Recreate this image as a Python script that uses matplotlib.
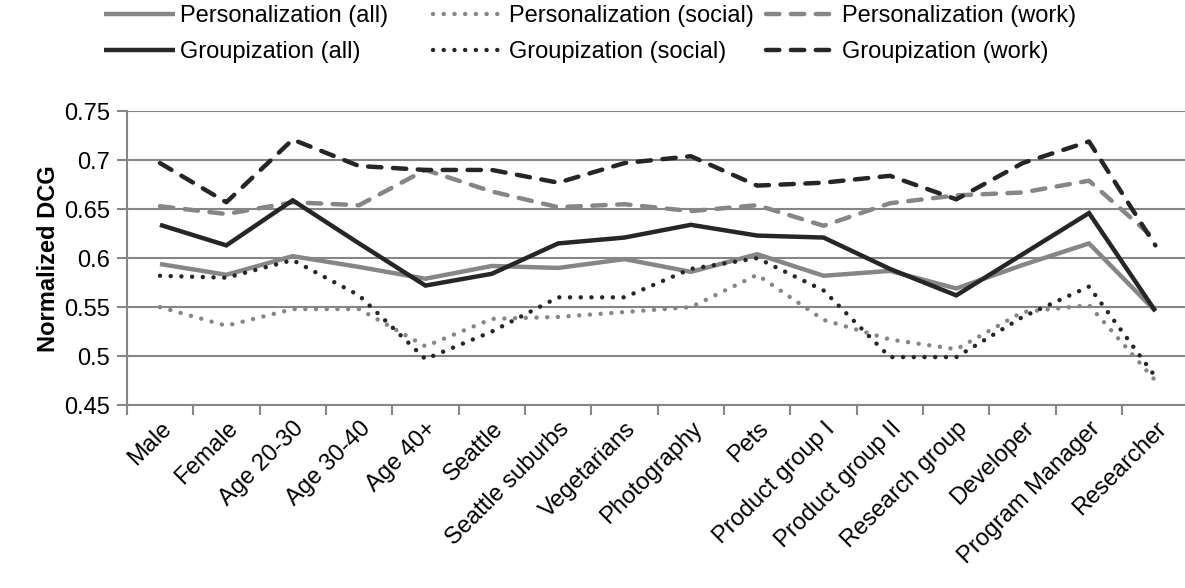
import numpy as np
import matplotlib
matplotlib.use('Agg')
import matplotlib.pyplot as plt

plt.rcParams['font.family'] = ['Liberation Sans', 'DejaVu Sans']

categories = ['Male', 'Female', 'Age 20-30', 'Age 30-40', 'Age 40+', 'Seattle',
              'Seattle suburbs', 'Vegetarians', 'Photography', 'Pets',
              'Product group I', 'Product group II', 'Research group',
              'Developer', 'Program Manager', 'Researcher']

pers_all = [0.594, 0.583, 0.602, 0.591, 0.579, 0.592, 0.590, 0.599, 0.586, 0.604,
            0.582, 0.587, 0.569, 0.593, 0.615, 0.546]
pers_social = [0.550, 0.531, 0.548, 0.548, 0.510, 0.538, 0.540, 0.545, 0.550, 0.583,
               0.537, 0.517, 0.507, 0.545, 0.552, 0.475]
pers_work = [0.653, 0.645, 0.657, 0.654, 0.690, 0.668, 0.652, 0.655, 0.648, 0.654,
             0.633, 0.656, 0.664, 0.667, 0.679, 0.619]
grp_all = [0.634, 0.613, 0.659, 0.615, 0.572, 0.584, 0.615, 0.621, 0.634, 0.623,
           0.621, 0.589, 0.562, 0.604, 0.646, 0.546]
grp_social = [0.582, 0.580, 0.598, 0.562, 0.497, 0.525, 0.560, 0.560, 0.589, 0.600,
              0.567, 0.499, 0.499, 0.540, 0.571, 0.479]
grp_work = [0.697, 0.657, 0.721, 0.694, 0.690, 0.690, 0.677, 0.697, 0.704, 0.674,
            0.677, 0.684, 0.660, 0.697, 0.719, 0.613]

GRAY = '#868686'
DARK = '#262626'
LW = 3.2
FS = 17

fig = plt.figure(figsize=(11.85, 5.88), dpi=100)
ax = fig.add_axes([0.107, 0.311, 0.896, 0.5])

x = np.arange(len(categories))
dot = (0, (0.01, 2.4))
dash = (0, (3.0, 2.6))

series = [
    (pers_all, GRAY, '-', 'Personalization (all)'),
    (pers_social, GRAY, dot, 'Personalization (social)'),
    (pers_work, GRAY, dash, 'Personalization (work)'),
    (grp_all, DARK, '-', 'Groupization (all)'),
    (grp_social, DARK, dot, 'Groupization (social)'),
    (grp_work, DARK, dash, 'Groupization (work)'),
]

handles = {}
for vals, col, ls, lab in series:
    ln, = ax.plot(x, vals, color=col, lw=LW, linestyle=ls, dash_capstyle='round',
                  solid_joinstyle='miter', solid_capstyle='butt', zorder=3)
    handles[lab] = ln

ax.set_xlim(-0.5, len(categories) - 0.5)
ax.set_ylim(0.45, 0.75)
ax.set_yticks([0.45, 0.5, 0.55, 0.6, 0.65, 0.7, 0.75])
ax.set_yticklabels(['0.45', '0.5', '0.55', '0.6', '0.65', '0.7', '0.75'])
ax.yaxis.grid(True, color=GRAY, lw=1.5)
ax.set_axisbelow(True)

ax.set_xticks(x)
ax.set_xticklabels(categories, rotation=45, ha='right', rotation_mode='anchor', fontsize=FS)
ax.set_xticks(np.arange(-0.5, len(categories), 1.0), minor=True)
ax.tick_params(axis='x', which='major', length=0, pad=9)
ax.tick_params(axis='x', which='minor', length=7, width=1.5, color=GRAY)
ax.tick_params(axis='y', length=7, width=1.5, color=GRAY, labelsize=FS, pad=5)

for s in ['top', 'right']:
    ax.spines[s].set_visible(False)
for s in ['left', 'bottom']:
    ax.spines[s].set_color(GRAY)
    ax.spines[s].set_linewidth(1.5)

ax.set_ylabel('Normalized DCG', fontsize=FS, fontweight='bold', labelpad=3)

cols = [
    (['Personalization (all)', 'Groupization (all)'], 103),
    (['Personalization (social)', 'Groupization (social)'], 432),
    (['Personalization (work)', 'Groupization (work)'], 765),
]
for labs, xpix in cols:
    fig.legend([handles[l] for l in labs], labs, loc='upper left',
               bbox_to_anchor=(xpix / 1185, 0.993), frameon=False, fontsize=FS,
               handlelength=3.0, handletextpad=0.2, labelspacing=0.6,
               borderpad=0.05, borderaxespad=0)

fig.savefig('out.png', dpi=100)
